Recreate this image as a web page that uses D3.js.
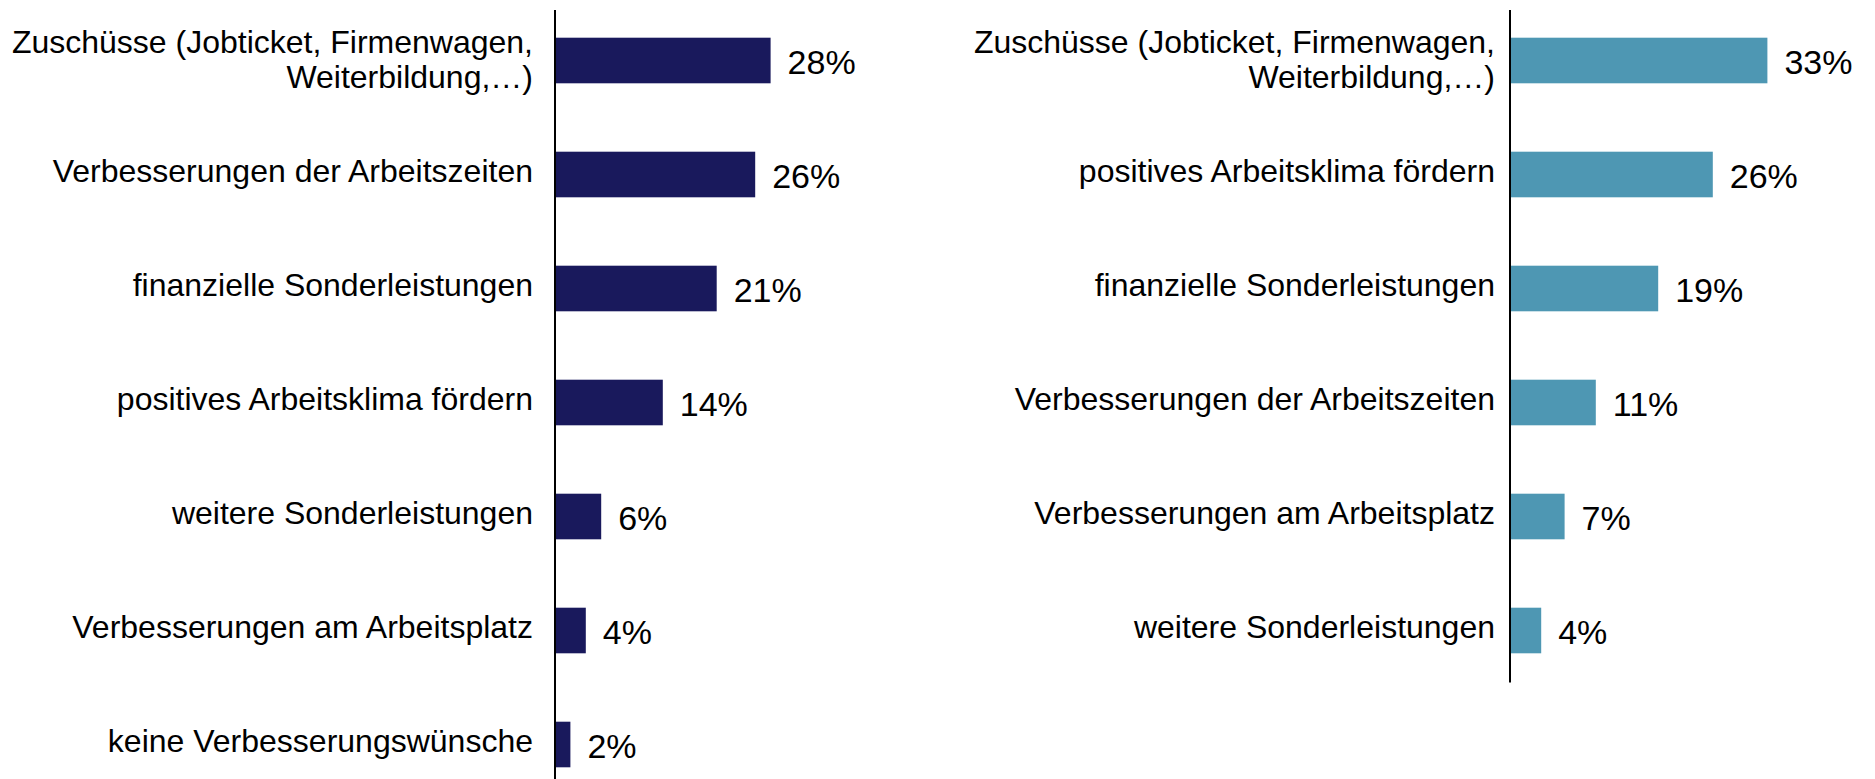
<!DOCTYPE html>
<html>
<head>
<meta charset="utf-8">
<script src="https://cdn.jsdelivr.net/npm/d3@7"></script>
<style>
  body { margin: 0; background: #fff; }
  text { font-family: "Liberation Sans", Arial, sans-serif; fill: #000; }
</style>
</head>
<body>
<div id="chart"></div>
<script>
// data: left panel
var leftCategories = [
    ["Zuschüsse (Jobticket, Firmenwagen,", "Weiterbildung,…)"],
    ["Verbesserungen der Arbeitszeiten"],
    ["finanzielle Sonderleistungen"],
    ["positives Arbeitsklima fördern"],
    ["weitere Sonderleistungen"],
    ["Verbesserungen am Arbeitsplatz"],
    ["keine Verbesserungswünsche"]
];
var leftValues = [28, 26, 21, 14, 6, 4, 2];

// data: right panel
var rightCategories = [
    ["Zuschüsse (Jobticket, Firmenwagen,", "Weiterbildung,…)"],
    ["positives Arbeitsklima fördern"],
    ["finanzielle Sonderleistungen"],
    ["Verbesserungen der Arbeitszeiten"],
    ["Verbesserungen am Arbeitsplatz"],
    ["weitere Sonderleistungen"]
];
var rightValues = [33, 26, 19, 11, 7, 4];

var width = 1875, height = 779;
var step = 114, top0 = 3.5;

var svg = d3.select("#chart")
    .append("svg")
    .attr("width", width)
    .attr("height", height);

function drawPanel(cats, vals, axisX, pxMax, color, labelGap) {
    var n = vals.length;
    var y = d3.scaleBand()
        .domain(d3.range(n))
        .range([top0, top0 + n * step])
        .paddingInner(0.6)
        .paddingOuter(0.3);

    var x = d3.scaleLinear()
        .domain([0, 35])
        .range([0, pxMax]);

    var g = svg.append("g")
        .attr("transform", "translate(" + axisX + ",0)");

    // bars
    g.selectAll("rect")
        .data(vals)
        .enter()
        .append("rect")
        .attr("x", 0)
        .attr("y", function (d, i) { return y(i); })
        .attr("width", function (d) { return x(d); })
        .attr("height", y.bandwidth())
        .attr("fill", color);

    // value labels
    g.selectAll("text.val")
        .data(vals)
        .enter()
        .append("text")
        .attr("class", "val")
        .attr("x", function (d) { return x(d) + 17; })
        .attr("y", function (d, i) { return y(i) + y.bandwidth() / 2 + 13; })
        .style("font-size", "34px")
        .text(function (d) { return d + "%"; });

    // category labels (may be two lines)
    var lab = g.selectAll("text.cat")
        .data(cats)
        .enter()
        .append("text")
        .attr("class", "cat")
        .attr("text-anchor", "end")
        .style("font-size", "32px");

    lab.each(function (lines, i) {
        var cy = y(i) + y.bandwidth() / 2;
        var t = d3.select(this);
        var first = lines.length == 1 ? cy + 7 : cy - 8;
        lines.forEach(function (line, k) {
            t.append("tspan")
                .attr("x", -labelGap)
                .attr("y", first + k * 35)
                .text(line);
        });
    });

    // vertical axis line
    g.append("line")
        .attr("x1", 0).attr("x2", 0)
        .attr("y1", 10)
        .attr("y2", top0 + n * step - 5)
        .attr("stroke", "#000")
        .attr("stroke-width", 2);
}

drawPanel(leftCategories, leftValues, 555, 35 * 7.7, "#19195c", 22);
drawPanel(rightCategories, rightValues, 1510, 35 * 7.8, "#4e97b3", 15);
</script>
</body>
</html>
